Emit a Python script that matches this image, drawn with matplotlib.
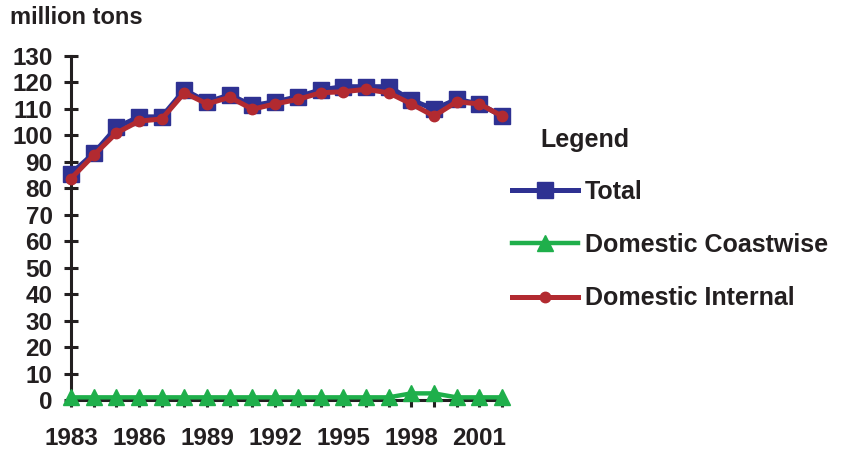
import matplotlib
matplotlib.use('Agg')
import matplotlib.pyplot as plt
import numpy as np

plt.rcParams['font.family'] = ['Liberation Sans', 'DejaVu Sans']
plt.rcParams['font.weight'] = 'bold'

# Dados (milhões de toneladas)
anos = list(range(1983, 2003))
total = [85.5, 93.2, 103.0, 107.0, 107.0, 117.2, 112.6, 115.3, 111.3, 112.7,
         114.6, 117.2, 118.4, 118.4, 118.4, 113.4, 109.9, 113.6, 111.9, 107.3]
costeiro = [1.0, 1.0, 1.0, 1.0, 1.0, 1.0, 1.0, 1.0, 1.0, 1.0,
            1.0, 1.0, 1.0, 1.0, 1.0, 2.5, 2.5, 1.0, 1.0, 1.0]
interno = [83.7, 92.5, 100.9, 105.4, 106.2, 116.1, 111.9, 114.4, 109.9, 111.9,
           113.6, 116.1, 116.5, 117.4, 116.1, 111.9, 107.3, 112.7, 111.9, 107.3]
rotulos_x = ['1983', '1986', '1989', '1992', '1995', '1998', '2001']

azul = '#2E3192'
verde = '#1FAF4B'
vermelho = '#B22A30'

fig = plt.figure(figsize=(8.58, 4.55), dpi=100)
ax = fig.add_axes([71 / 858, 1 - 400 / 455, (502 - 71) / 858, (400 - 56) / 455])

l1, = ax.plot(anos, total, color=azul, lw=3.6, marker='s', ms=12,
              mec=azul, mfc=azul, zorder=3, clip_on=False, label='Total')
l2, = ax.plot(anos, costeiro, color=verde, lw=3.2, marker='^', ms=12,
              mec=verde, mfc=verde, zorder=5, clip_on=False, label='Domestic Coastwise')
l3, = ax.plot(anos, interno, color=vermelho, lw=3.6, marker='o', ms=7.5,
              mec=vermelho, mfc=vermelho, zorder=4, clip_on=False, label='Domestic Internal')

ax.set_xlim(1983, 2002)
ax.set_ylim(0, 130)
ax.set_yticks(np.arange(0, 131, 10))
ax.set_xticks(anos)
ax.set_xticklabels([str(a) if str(a) in rotulos_x else '' for a in anos])

for s in ['top', 'right']:
    ax.spines[s].set_visible(False)
for s in ['left', 'bottom']:
    ax.spines[s].set_linewidth(2.2)
    ax.spines[s].set_color('#231F20')

ax.tick_params(axis='both', direction='inout', length=10.5, width=2.2,
               color='#231F20', labelsize=17.5, labelcolor='#231F20')
ax.tick_params(axis='y', pad=8)
ax.tick_params(axis='x', pad=14)

fig.text(10 / 858, 1 - 18 / 455, 'million tons', fontsize=17, fontweight='bold',
         color='#231F20', va='center', ha='left')
fig.text(540 / 858, 1 - 140 / 455, 'Legend', fontsize=18, fontweight='bold',
         color='#231F20', va='center', ha='left')

leg = fig.legend(handles=[l1, l2, l3], loc='upper left',
                 bbox_to_anchor=(512 / 858, 1 - 180 / 455), frameon=False,
                 fontsize=18, handlelength=2.64, handletextpad=0.28,
                 labelspacing=1.17, borderpad=0, borderaxespad=0)
for t in leg.get_texts():
    t.set_color('#231F20')
    t.set_fontweight('bold')

plt.savefig('out.png', dpi=100)
